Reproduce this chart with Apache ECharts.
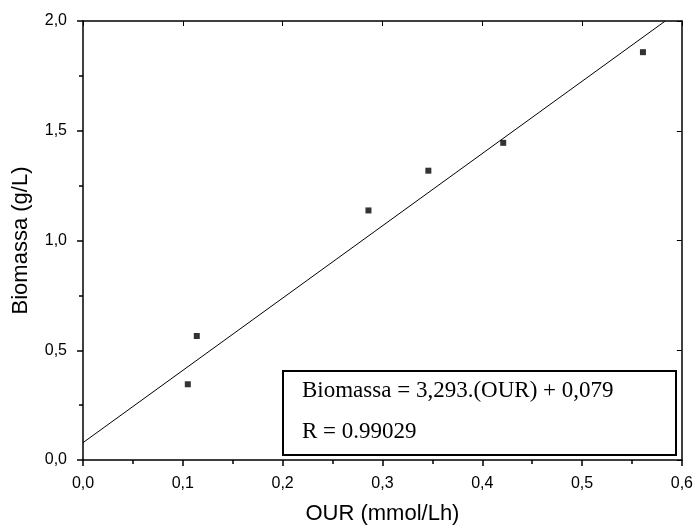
<!DOCTYPE html>
<html>
<head>
<meta charset="utf-8">
<script src="https://cdn.jsdelivr.net/npm/echarts@6/dist/echarts.min.js"></script>
<style>
html,body{margin:0;padding:0;background:#fff;}
#c{width:696px;height:530px;}
</style>
</head>
<body>
<div id="c"></div>
<script>
var ourValues = [0.105, 0.114, 0.286, 0.346, 0.421, 0.561];
var biomassValues = [0.345, 0.565, 1.137, 1.318, 1.445, 1.858];
var fitX = [0, 0.5834];
var fitY = [0.079, 2.0];
var xTicks = ['0,0','0,1','0,2','0,3','0,4','0,5','0,6'];
var yTicks = ['0,0','0,5','1,0','1,5','2,0'];
var eqLine1 = 'Biomassa = 3,293.(OUR) + 0,079';
var eqLine2 = 'R = 0.99029';

var chart = echarts.init(document.getElementById('c'), null, {renderer:'canvas'});
var axisLine = {show:true, onZero:false, lineStyle:{color:'#000', width:1.5}};
var option = {
  animation:false,
  backgroundColor:'#fff',
  grid:{left:83, right:12, top:21, bottom:68},
  xAxis:[{
    type:'value', min:0, max:0.6, interval:0.1,
    name:'OUR (mmol/Lh)', nameLocation:'middle', nameGap:43,
    nameTextStyle:{fontFamily:'Liberation Sans', fontSize:22, color:'#000'},
    axisLine:axisLine,
    axisTick:{show:true, inside:false, length:6, lineStyle:{color:'#000', width:1.5}},
    minorTick:{show:true, splitNumber:2, length:4, lineStyle:{color:'#000', width:1.5}},
    axisLabel:{fontFamily:'Liberation Sans', fontSize:16, color:'#000', margin:16,
      formatter:function(v){ return xTicks[Math.round(v*10)]; }},
    splitLine:{show:false}
  },{
    type:'value', position:'top', min:0, max:0.6, interval:0.1,
    axisLine:axisLine,
    axisTick:{show:true, inside:true, length:5, lineStyle:{color:'#000', width:1}},
    minorTick:{show:false},
    axisLabel:{show:false}, splitLine:{show:false}
  }],
  yAxis:[{
    type:'value', min:0, max:2.0, interval:0.5,
    name:'Biomassa (g/L)', nameLocation:'middle', nameGap:51, nameRotate:90,
    nameTextStyle:{fontFamily:'Liberation Sans', fontSize:22, color:'#000'},
    axisLine:axisLine,
    axisTick:{show:true, inside:false, length:6, lineStyle:{color:'#000', width:1.5}},
    minorTick:{show:true, splitNumber:2, length:4, lineStyle:{color:'#000', width:1.5}},
    axisLabel:{fontFamily:'Liberation Sans', fontSize:16, color:'#000', margin:16,
      formatter:function(v){ return yTicks[Math.round(v*2)]; }},
    splitLine:{show:false}
  },{
    type:'value', position:'right', min:0, max:2.0, interval:0.5,
    axisLine:axisLine,
    axisTick:{show:true, inside:true, length:5, lineStyle:{color:'#000', width:1}},
    axisLabel:{show:false}, splitLine:{show:false}
  }],
  series:[{
    type:'scatter', symbol:'rect', symbolSize:6,
    itemStyle:{color:'#000'},
    data: ourValues.map(function(x,i){ return [x, biomassValues[i]]; }),
    z:3
  },{
    type:'line', symbol:'none',
    lineStyle:{color:'#000', width:1},
    data: fitX.map(function(x,i){ return [x, fitY[i]]; }),
    z:2
  }],
  graphic:[{
    type:'rect', shape:{x:283, y:371, width:393, height:84},
    style:{fill:'#fff', stroke:'#000', lineWidth:2}, z:10
  },{
    type:'text', x:302, y:379, z:11,
    style:{text:eqLine1, font:'23px "Liberation Serif"', fill:'#000'}
  },{
    type:'text', x:302, y:420, z:11,
    style:{text:eqLine2, font:'23px "Liberation Serif"', fill:'#000'}
  }]
};
chart.setOption(option);
</script>
</body>
</html>
